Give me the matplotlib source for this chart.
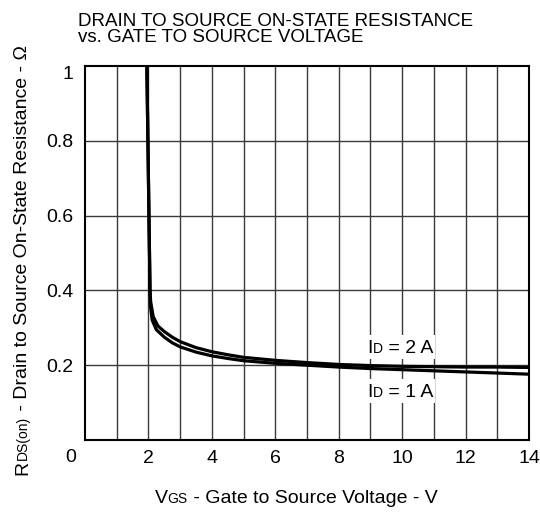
import numpy as np
import matplotlib
matplotlib.use("Agg")
import matplotlib.pyplot as plt
from matplotlib.patches import Rectangle
from matplotlib.transforms import ScaledTranslation

plt.rcParams['font.family'] = ['Liberation Sans', 'DejaVu Sans']

# Gate voltage (V) and R_DS(on) (ohm)
vgs_2a = [1.95, 2.0, 2.05, 2.07, 2.15, 2.3, 2.5, 2.75, 3.0, 3.5, 4.0, 4.5, 5.0,
          6.0, 7.0, 8.0, 9.0, 10.0, 11.0, 12.0, 13.0, 14.0]
rds_2a = [1.0, 0.7, 0.40, 0.37, 0.33, 0.305, 0.29, 0.275, 0.263, 0.247, 0.236, 0.228, 0.221,
          0.213, 0.207, 0.202, 0.199, 0.197, 0.196, 0.195, 0.195, 0.194]

vgs_1a = [1.95, 2.0, 2.05, 2.06, 2.12, 2.25, 2.5, 2.75, 3.0, 3.5, 4.0, 4.5, 5.0,
          6.0, 7.0, 8.0, 9.0, 10.0, 11.0, 12.0, 13.0, 14.0]
rds_1a = [1.0, 0.7, 0.40, 0.36, 0.32, 0.295, 0.275, 0.26, 0.249, 0.235, 0.225, 0.218, 0.212,
          0.205, 0.200, 0.195, 0.191, 0.188, 0.185, 0.182, 0.179, 0.176]

x_ticks = [2, 4, 6, 8, 10, 12, 14]
y_ticks = [0.2, 0.4, 0.6, 0.8, 1.0]
y_tick_labels = ['0.2', '0.4', '0.6', '0.8', '1']

FS = 14      # main text size
FS_SUB = 10  # small "subscript" letters

W, H = 540, 512
fig = plt.figure(figsize=(W / 100, H / 100), dpi=100)
ax = fig.add_axes([85 / W, 1 - 440 / H, 444 / W, 374 / H])

ax.set_xlim(0, 14)
ax.set_ylim(0, 1)

for v in range(1, 14):
    ax.axvline(v, color='#3a3a3a', lw=1.0, zorder=1)
for r in [0.2, 0.4, 0.6, 0.8]:
    ax.axhline(r, color='#3a3a3a', lw=1.0, zorder=1)

ax.plot(vgs_2a, rds_2a, color='black', lw=2.3, zorder=3)
ax.plot(vgs_1a, rds_1a, color='black', lw=2.3, zorder=3)

ax.set_xticks(x_ticks)
ax.set_xticklabels([str(t) for t in x_ticks])
ax.set_yticks(y_ticks)
ax.set_yticklabels(y_tick_labels)
ax.tick_params(length=0, labelsize=FS)
ax.tick_params(axis='x', pad=7)
ax.tick_params(axis='y', pad=8.5)
for s in ax.spines.values():
    s.set_linewidth(1.5)

# the "1" label sits a little below the top edge
lab1 = ax.get_yticklabels()[-1]
lab1.set_transform(lab1.get_transform() + ScaledTranslation(0, -5 / 72, fig.dpi_scale_trans))

# "0" label sits left of the axis corner
ax.text(-0.45, -0.025, '0', transform=ax.transData, ha='center', va='top', fontsize=FS,
        clip_on=False)

fig.text(78 / W, 1 - 13 / H, 'DRAIN TO SOURCE ON-STATE RESISTANCE\nvs. GATE TO SOURCE VOLTAGE',
         ha='left', va='top', fontsize=13.5, linespacing=0.95)

fig.canvas.draw()
renderer = fig.canvas.get_renderer()


def text_width(s, size):
    t = fig.text(0, 0, s, fontsize=size)
    w = t.get_window_extent(renderer).width
    t.remove()
    return w


def rich_text(cx, cy, parts, rotation=0, background=False):
    # parts: list of (string, fontsize); cx, cy = centre of baseline run in pixels
    widths = [text_width(s, fs) for s, fs in parts]
    total = sum(widths)
    if background:
        fig.patches.append(Rectangle((cx - total / 2 - 2, cy - 6), total + 4, 24,
                                     transform=None, facecolor='white', edgecolor='none',
                                     zorder=4))
    pos = -total / 2
    for (s, fs), w in zip(parts, widths):
        if rotation == 0:
            x, y = cx + pos, cy
        else:
            x, y = cx, cy + pos
        fig.text(x / W, y / H, s, fontsize=fs, rotation=rotation, rotation_mode='anchor',
                 ha='left', va='baseline', zorder=5)
        pos += w


rich_text(296, 512 - 503, [('V', FS), ('GS', FS_SUB), (' - Gate to Source Voltage - V', FS)])
rich_text(27, 512 - 260, [('R', FS), ('DS(on)', FS_SUB),
                          (' - Drain to Source On-State Resistance - \u03a9', FS)], rotation=90)

# curve labels, placed in data coordinates
for xd, yd, txt in [(9.95, 0.233, ' = 2 A'), (9.95, 0.115, ' = 1 A')]:
    px, py = ax.transData.transform((xd, yd))
    rich_text(px, py, [('I', FS), ('D', FS_SUB), (txt, FS)], background=True)

fig.savefig('out.png', dpi=100)
